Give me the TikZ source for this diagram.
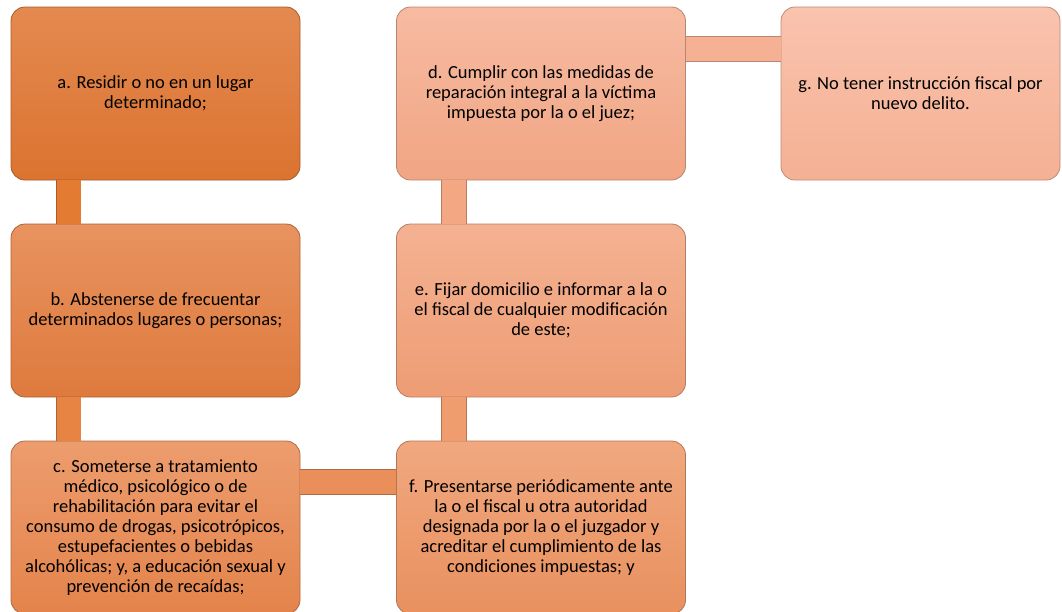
\documentclass[tikz,border=0pt]{standalone}
\usepackage{fontspec}
\setmainfont{Carlito}
\usepackage{xcolor}
\usepackage{tikz}
\usetikzlibrary{calc}
\usetikzlibrary{shadows,shadings}
\definecolor{oraA}{HTML}{E07A38}
\definecolor{oraB}{HTML}{E5844A}
\definecolor{oraC}{HTML}{EA8F5A}
\definecolor{oraF}{HTML}{EF9C6E}
\definecolor{oraE}{HTML}{F3A783}
\definecolor{oraD}{HTML}{F6B195}
\definecolor{oraG}{HTML}{F9BBA3}
\definecolor{oraDark}{HTML}{D0621E}
\tikzstyle{condnode}=[black, shape=rectangle, rounded corners=14pt, minimum width=289pt, minimum height=173pt, inner sep=0pt, align=center, font=\fontsize{18.5}{20}\selectfont, line width=0.8pt]
\tikzstyle{linkbar}=[line width=0.7pt, double distance=24pt]

\begin{document}
\begin{tikzpicture}[x=1pt, y=1pt]
\useasboundingbox (0,0) rectangle (1062,-611);
\clip (0,0) rectangle (1062,-611);
\node [condnode, draw=oraA!75!black, top color=oraA!88!white, bottom color=oraA!70!oraDark] (a) at (155.5,-93.5) {a. Residir o no en un lugar\\ determinado;};
\node [condnode, draw=oraB!75!black, top color=oraB!88!white, bottom color=oraB!70!oraDark] (b) at (155.5,-310.5) {b. Abstenerse de frecuentar\\ determinados lugares o personas;};
\node [condnode, draw=oraC!75!black, top color=oraC!88!white, bottom color=oraC!75!oraDark] (c) at (155.5,-527.5) {c. Someterse a tratamiento\\ médico, psicológico o de\\ rehabilitación para evitar el\\ consumo de drogas, psicotrópicos,\\ estupefacientes o bebidas\\ alcohólicas; y, a educación sexual y\\ prevención de recaídas;};
\node [condnode, draw=oraF!75!black, top color=oraF!88!white, bottom color=oraF!80!oraDark] (f) at (541,-527.5) {f. Presentarse periódicamente ante\\ la o el fiscal u otra autoridad\\ designada por la o el juzgador y\\ acreditar el cumplimiento de las\\ condiciones impuestas; y};
\node [condnode, draw=oraE!75!black, top color=oraE!88!white, bottom color=oraE!85!oraDark] (e) at (541,-310.5) {e. Fijar domicilio e informar a la o\\ el fiscal de cualquier modificación\\ de este;};
\node [condnode, draw=oraD!75!black, top color=oraD!88!white, bottom color=oraD!85!oraDark] (d) at (541,-93.5) {d. Cumplir con las medidas de\\ reparación integral a la víctima\\ impuesta por la o el juez;};
\node [condnode, draw=oraG!75!black, top color=oraG!88!white, bottom color=oraG!88!oraDark, minimum width=279pt] (g) at (920.5,-93.5) {g. No tener instrucción fiscal por\\ nuevo delito.};

\draw[linkbar, draw=oraA!75!black, double=oraA!90!orange] ([xshift=58pt]a.south west) -- ([xshift=58pt]b.north west);
\draw[linkbar, draw=oraB!75!black, double=oraB!92!orange] ([xshift=58pt]b.south west) -- ([xshift=58pt]c.north west);
\draw[linkbar, draw=oraC!75!black, double=oraC] ([yshift=-41.5pt]c.north east) -- ([yshift=-41.5pt]f.north west);
\draw[linkbar, draw=oraF!75!black, double=oraF] ([xshift=58pt]f.north west) -- ([xshift=58pt]e.south west);
\draw[linkbar, draw=oraE!75!black, double=oraE] ([xshift=58pt]e.north west) -- ([xshift=58pt]d.south west);
\draw[linkbar, draw=oraD!75!black, double=oraD] ([yshift=-42.5pt]d.north east) -- ([yshift=-42.5pt]g.north west);
\end{tikzpicture}
\end{document}
